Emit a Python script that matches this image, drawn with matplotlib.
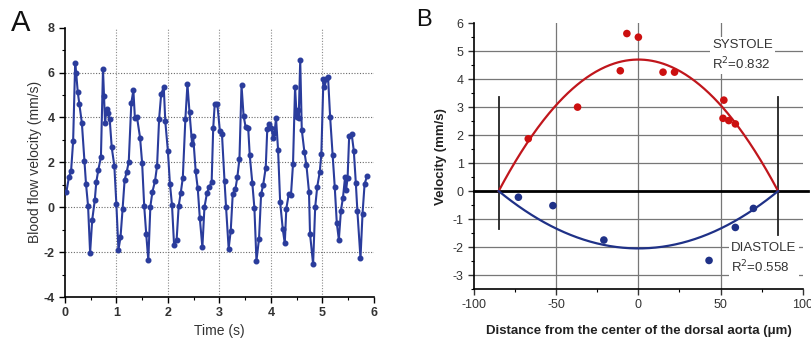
import matplotlib
matplotlib.use("Agg")
import matplotlib.pyplot as plt
import numpy as np
from matplotlib.ticker import MultipleLocator

plt.rcParams['font.family'] = ['Liberation Sans', 'DejaVu Sans']
plt.rcParams['axes.unicode_minus'] = False

# ---------------- Panel A data ----------------
time_s = [0.03, 0.08, 0.12, 0.16, 0.20, 0.22, 0.25, 0.28, 0.33, 0.38, 0.41, 0.45, 0.49, 0.53,
          0.58, 0.61, 0.65, 0.70, 0.74, 0.76, 0.78, 0.81, 0.83, 0.87, 0.91, 0.96, 1.00, 1.04,
          1.08, 1.12, 1.16, 1.20, 1.24, 1.29, 1.33, 1.36, 1.40, 1.46, 1.50, 1.54, 1.58, 1.62,
          1.66, 1.70, 1.75, 1.79, 1.83, 1.87, 1.92, 1.95, 2.00, 2.04, 2.08, 2.12, 2.17, 2.21,
          2.25, 2.29, 2.34, 2.38, 2.42, 2.47, 2.49, 2.54, 2.58, 2.62, 2.67, 2.71, 2.76, 2.80,
          2.85, 2.88, 2.91, 2.96, 3.01, 3.05, 3.10, 3.13, 3.18, 3.22, 3.26, 3.31, 3.35, 3.39,
          3.43, 3.47, 3.51, 3.56, 3.59, 3.64, 3.68, 3.72, 3.77, 3.81, 3.85, 3.90, 3.93, 3.97,
          4.01, 4.05, 4.07, 4.10, 4.14, 4.18, 4.23, 4.27, 4.30, 4.35, 4.39, 4.43, 4.47, 4.50,
          4.52, 4.54, 4.57, 4.60, 4.65, 4.69, 4.74, 4.76, 4.82, 4.86, 4.90, 4.95, 4.98, 5.02,
          5.04, 5.08, 5.11, 5.15, 5.20, 5.24, 5.28, 5.32, 5.36, 5.40, 5.44, 5.46, 5.49, 5.52,
          5.57, 5.61, 5.65, 5.68, 5.74, 5.78, 5.82, 5.87]
velocity = [0.69, 1.36, 1.60, 2.93, 6.43, 5.96, 5.13, 4.60, 3.75, 2.07, 1.04, 0.06, -2.03, -0.58,
            0.30, 1.12, 1.67, 2.24, 6.15, 4.94, 3.75, 4.37, 4.19, 3.93, 2.66, 1.85, 0.13, -1.90,
            -1.34, -0.10, 1.21, 1.57, 2.01, 4.64, 5.21, 3.97, 4.01, 3.10, 1.97, 0.06, -1.21, -2.37,
            0.03, 0.69, 1.16, 1.84, 3.94, 5.04, 5.36, 3.82, 2.51, 1.04, 0.10, -1.67, -1.45, 0.06,
            0.64, 1.31, 3.94, 5.48, 4.22, 2.82, 3.18, 1.60, 0.84, -0.48, -1.79, 0.00, 0.64, 0.88,
            1.12, 3.51, 4.61, 4.60, 3.39, 3.27, 1.16, -0.01, -1.84, -1.07, 0.61, 0.79, 1.36, 2.16,
            5.43, 4.07, 3.57, 3.51, 2.31, 1.07, -0.04, -2.39, -1.40, 0.57, 0.99, 1.76, 3.48, 3.72,
            3.52, 3.07, 3.30, 3.97, 2.54, 0.24, -0.96, -1.61, -0.06, 0.61, 0.54, 1.93, 5.36, 4.04,
            4.34, 3.97, 6.55, 3.45, 2.48, 1.88, 0.69, -1.18, -2.54, -0.01, 0.91, 1.58, 2.37, 5.69,
            5.34, 5.72, 5.81, 4.04, 2.34, 0.91, -0.70, -1.45, -0.16, 0.43, 1.33, 0.76, 1.31, 3.15,
            3.24, 2.52, 1.06, -0.18, -2.27, -0.28, 1.04, 1.40]
a_xticks = [0, 1, 2, 3, 4, 5, 6]
a_yticks = [-4, -2, 0, 2, 4, 6, 8]

# ---------------- Panel B data ----------------
sys_x = [-67, -37, -11, -7, 0, 15, 22, 52, 51.5, 55, 59]
sys_v = [1.87, 3.0, 4.3, 5.63, 5.5, 4.25, 4.25, 3.25, 2.6, 2.52, 2.4]
dia_x = [-73, -52, -21, 43, 59, 70]
dia_v = [-0.22, -0.52, -1.75, -2.48, -1.3, -0.62]
radius = 85
sys_peak = 4.7
dia_peak = -2.05
b_xticks = [-100, -50, 0, 50, 100]
b_yticks = [-3, -2, -1, 0, 1, 2, 3, 4, 5, 6]

blue_a = '#2a3c9c'
red = '#cc1010'
navy = '#1f3187'

fig = plt.figure(figsize=(8.11, 3.41), dpi=100)

# ---------------- Panel A ----------------
axA = fig.add_axes([0.080, 0.129, 0.381, 0.790])
axA.plot(time_s, velocity, '-o', color=blue_a, lw=1.5, ms=3.3, zorder=3)
axA.set_xlim(0, 6)
axA.set_ylim(-4, 8)
axA.set_xticks(a_xticks)
axA.set_yticks(a_yticks)
axA.xaxis.set_minor_locator(MultipleLocator(0.5))
axA.yaxis.set_minor_locator(MultipleLocator(1))
for v in [1, 2, 3, 4, 5]:
    axA.axvline(v, color='#8a8a8a', lw=0.8, ls=(0, (1, 1.5)), zorder=1)
for v in [-2, 0, 2, 4, 6]:
    axA.axhline(v, color='#6a6a6a', lw=0.8, ls=(0, (1, 1.5)), zorder=1)
for s in ['top', 'right']:
    axA.spines[s].set_visible(False)
for s in ['left', 'bottom']:
    axA.spines[s].set_linewidth(1.2)
axA.tick_params(which='major', direction='out', length=4, width=1, labelsize=9)
axA.tick_params(which='minor', direction='out', length=2.5, width=0.8)
for lab in axA.get_xticklabels() + axA.get_yticklabels():
    lab.set_fontweight('bold')
    lab.set_color('#333333')
axA.set_xlabel('Time (s)', fontsize=10, color='#333333', labelpad=3)
axA.set_ylabel('Blood flow velocity (mm/s)', fontsize=10, color='#333333', labelpad=1)
fig.text(0.013, 0.975, 'A', fontsize=21, va='top', ha='left', color='#111111')

# ---------------- Panel B ----------------
axB = fig.add_axes([0.5845, 0.1525, 0.4053, 0.7795])
axB.set_xlim(-100, 100)
axB.set_ylim(-3.5, 6)
for v in [-50, 0, 50]:
    axB.axvline(v, color='#777777', lw=0.9, zorder=1)
for v in [-3, -2, -1, 1, 2, 3, 4, 5]:
    axB.axhline(v, color='#777777', lw=0.9, zorder=1)
axB.plot([-100, 103], [0, 0], color='black', lw=2.0, zorder=2, clip_on=False)
axB.plot([-radius, -radius], [-1.37, 3.37], color='#222222', lw=1.3, zorder=2)
axB.plot([radius, radius], [-1.57, 3.37], color='#222222', lw=1.3, zorder=2)

xx = np.linspace(-radius, radius, 300)
axB.plot(xx, sys_peak * (1 - (xx / radius) ** 2), color='#c0161c', lw=1.6, zorder=3)
axB.plot(xx, dia_peak * (1 - (xx / radius) ** 2), color=navy, lw=1.6, zorder=3)
axB.scatter(sys_x, sys_v, s=30, color=red, zorder=4, edgecolors='none')
axB.scatter(dia_x, dia_v, s=30, color=navy, zorder=4, edgecolors='none')

axB.text(45, 4.85, 'SYSTOLE\nR$^2$=0.832', fontsize=9.5, color='#333333', ha='left', va='center',
         linespacing=1.35, bbox=dict(facecolor='white', edgecolor='none', pad=1.5), zorder=3)
axB.text(56.5, -2.43, 'DIASTOLE\nR$^2$=0.558', fontsize=9.5, color='#333333', ha='left', va='center',
         linespacing=1.35, bbox=dict(facecolor='white', edgecolor='none', pad=1.5), zorder=3)

axB.set_xticks(b_xticks)
axB.set_yticks(b_yticks)
axB.xaxis.set_minor_locator(MultipleLocator(25))
axB.yaxis.set_minor_locator(MultipleLocator(0.5))
for s in ['top', 'right']:
    axB.spines[s].set_visible(False)
for s in ['left', 'bottom']:
    axB.spines[s].set_linewidth(1.2)
axB.tick_params(which='major', direction='out', length=4, width=1, labelsize=9, colors='#333333')
axB.tick_params(which='minor', direction='out', length=2.5, width=0.8)
axB.set_xlabel('Distance from the center of the dorsal aorta (\u03bcm)', fontsize=9.5,
               fontweight='bold', color='#222222', labelpad=10)
axB.set_ylabel('Velocity (mm/s)', fontsize=9.5, fontweight='bold', color='#222222', labelpad=4)
fig.text(0.513, 0.975, 'B', fontsize=17, va='top', ha='left', color='#111111')

fig.savefig('out.png', dpi=100)
